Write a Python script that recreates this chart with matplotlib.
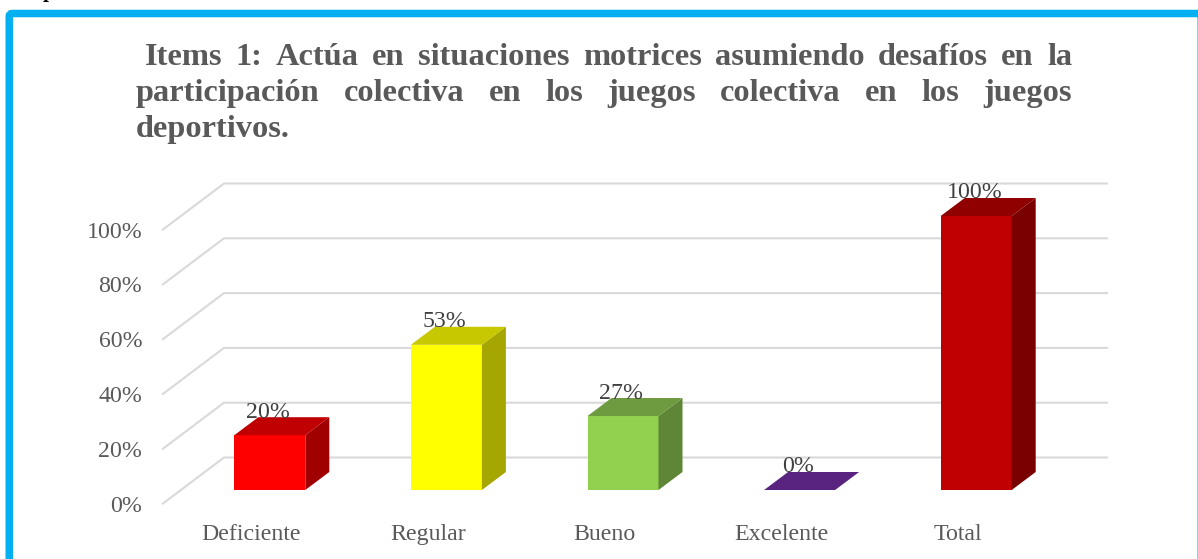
import matplotlib
matplotlib.use("Agg")
import matplotlib.pyplot as plt
from matplotlib.patches import FancyBboxPatch, Polygon

categories = ["Deficiente", "Regular", "Bueno", "Excelente", "Total"]
values = [20, 53, 27, 0, 100]
value_labels = ["20%", "53%", "27%", "0%", "100%"]
y_ticks = [0, 20, 40, 60, 80, 100]
y_tick_labels = ["0%", "20%", "40%", "60%", "80%", "100%"]
title_lines = [
    "Items 1: Actúa en situaciones motrices asumiendo desafíos en la",
    "participación colectiva en los juegos colectiva en los juegos",
    "deportivos.",
]
front_colors = ["#FF0000", "#FFFF00", "#92D050", "#582480", "#C00000"]
top_colors = ["#C00000", "#C8C800", "#6F9B40", "#582480", "#900000"]
side_colors = ["#A00000", "#A6A600", "#5F8636", "#582480", "#7A0000"]

W, H = 1198, 559
TEXT = "#595959"
GRID = "#D9D9D9"
TITLE_SIZE = 23.3
LABEL_SIZE = 17.2
plt.rcParams["font.family"] = ["Liberation Serif", "DejaVu Serif"]

fig = plt.figure(figsize=(W / 100, H / 100), dpi=100, facecolor="white")

# pixel-space layer for the frame and the justified title
bg = fig.add_axes([0, 0, 1, 1])
bg.set_xlim(0, W)
bg.set_ylim(H, 0)
bg.axis("off")
bg.add_patch(FancyBboxPatch((9.25, 13.5), 1192, 570, boxstyle="round,pad=0,rounding_size=3",
                            facecolor="white", edgecolor="#00B0F0", linewidth=5.4))
bg.text(43, -3.5, "p", fontsize=15, fontweight="bold", color="black", va="baseline")

renderer = fig.canvas.get_renderer()
TITLE_R = 1072


def word_width(s):
    t = bg.text(0, 0, s, fontsize=TITLE_SIZE, fontweight="bold")
    w = t.get_window_extent(renderer).width
    t.remove()
    return w


for n, line in enumerate(title_lines):
    words = line.split()
    y = 65 + n * 36
    left = 145 if n == 0 else 136
    widths = [word_width(w) for w in words]
    # last line is left aligned, the others are stretched to the right edge
    gap = 7 if n == 2 else (TITLE_R - left - sum(widths)) / (len(words) - 1)
    x = left
    for w, ww in zip(words, widths):
        bg.text(x, y, w, fontsize=TITLE_SIZE, fontweight="bold", color=TEXT, va="baseline")
        x += ww + gap

# front plane of the 3D box: x from 163 to 1046 px, 0-100 from y=503.5 to y=229.5 px
ax = fig.add_axes([163 / W, 1 - 503.5 / H, 883 / W, 274 / H])
ax.set_xlim(-0.5, 4.5)
ax.set_ylim(0, 100)
ax.patch.set_alpha(0)
for s in ax.spines.values():
    s.set_visible(False)

PX = 5 / 883
PY = 100 / 274
wall_dx, wall_dy = 61 * PX, 46 * PY
bar_dx, bar_dy = 18.5 * PX, 13.5 * PY
depth_dx, depth_dy = 24 * PX, 18 * PY
bar_w = 71 * PX

for t in y_ticks:
    ax.plot([-0.5, -0.5 + wall_dx, 4.5 + wall_dx], [t, t + wall_dy, t + wall_dy],
            color=GRID, lw=1.5, clip_on=False, zorder=1, solid_joinstyle="miter")

for i, v in enumerate(values):
    x0 = i + bar_dx - bar_w / 2
    x1 = x0 + bar_w
    y0 = bar_dy
    y1 = y0 + v
    if v > 0:
        ax.bar(i + bar_dx, v, bar_w, bottom=y0, color=front_colors[i], clip_on=False, zorder=3)
        ax.add_patch(Polygon([(x1, y0), (x1 + depth_dx, y0 + depth_dy),
                              (x1 + depth_dx, y1 + depth_dy), (x1, y1)],
                             facecolor=side_colors[i], edgecolor="none", clip_on=False, zorder=3))
    ax.add_patch(Polygon([(x0, y1), (x0 + depth_dx, y1 + depth_dy),
                          (x1 + depth_dx, y1 + depth_dy), (x1, y1)],
                         facecolor=top_colors[i], edgecolor="none", clip_on=False, zorder=3))
    ax.text(i + bar_dx - 1.5 * PX, y1 + 23 * PY, value_labels[i], fontsize=LABEL_SIZE, color="#404040",
            ha="center", va="center", clip_on=False, zorder=4)

ax.set_yticks(y_ticks, y_tick_labels)
ax.set_xticks(range(len(categories)), categories)
ax.tick_params(axis="y", length=0, pad=15, labelsize=LABEL_SIZE, labelcolor=TEXT)
ax.tick_params(axis="x", length=0, pad=15, labelsize=LABEL_SIZE, labelcolor=TEXT)

fig.savefig("out.png", dpi=100)
